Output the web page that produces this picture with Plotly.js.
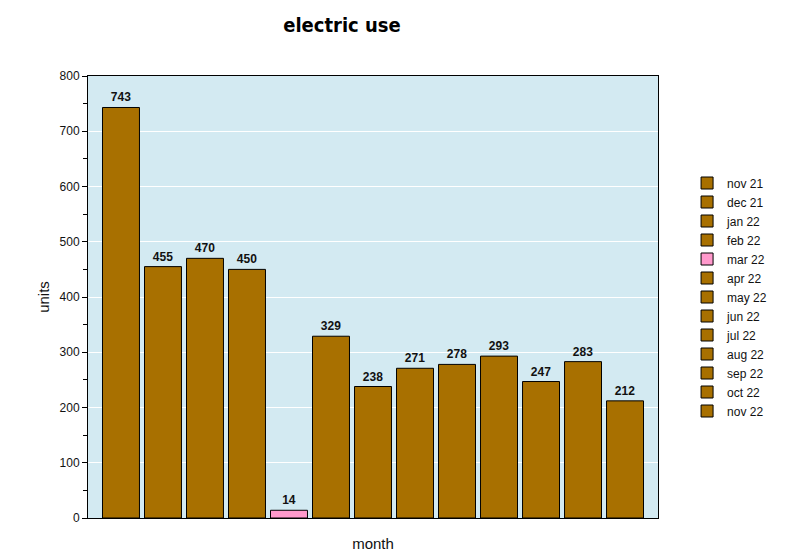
<!DOCTYPE html>
<html><head><meta charset="utf-8">
<script src="https://cdn.plot.ly/plotly-3.0.1.min.js"></script>
<style>html,body{margin:0;padding:0;background:#fff}#chart{width:801px;height:557px}</style>
</head><body><div id="chart"></div>
<script>
const months = ["nov 21","dec 21","jan 22","feb 22","mar 22","apr 22","may 22","jun 22","jul 22","aug 22","sep 22","oct 22","nov 22"];
const units = [743,455,470,450,14,329,238,271,278,293,247,283,212];
const barColors = ["#a87000","#a87000","#a87000","#a87000","#ff99cc","#a87000","#a87000","#a87000","#a87000","#a87000","#a87000","#a87000","#a87000"];

const traces = months.map((m,i)=>({
  type:'bar', name:m, x:[i], y:[units[i]],
  marker:{color:barColors[i], line:{color:'#000', width:1}},
  text:[String(units[i])], textposition:'outside', cliponaxis:false,
  textfont:{family:'Liberation Sans, Arial, sans-serif', size:12, color:'#111', weight:'bold'},
  width:0.88, hoverinfo:'skip'
}));

const layout = {
  width:801, height:557,
  margin:{l:88, r:143, t:76, b:39},
  paper_bgcolor:'#ffffff', plot_bgcolor:'#d3eaf2',
  barmode:'overlay',
  showlegend:true,
  title:{text:'electric use', x:342/801, xanchor:'center', y:1-25/557, yanchor:'middle',
    font:{family:'DejaVu Sans Condensed, Liberation Sans Narrow, sans-serif', size:20, color:'#000', weight:'bold'}},
  xaxis:{range:[-0.785,12.785], showticklabels:false, ticks:'', showgrid:false, zeroline:false,
    showline:true, linecolor:'#000', linewidth:1, mirror:true,
    title:{text:'month', standoff:20, font:{family:'Liberation Sans, Arial, sans-serif', size:15, color:'#111'}}},
  yaxis:{range:[0,800], dtick:100, ticks:'outside', ticklen:5, tickcolor:'#000',
    minor:{dtick:50, ticks:'outside', ticklen:4, tickcolor:'#000', showgrid:false},
    showgrid:true, gridcolor:'#ffffff', gridwidth:1, zeroline:false,
    showline:true, linecolor:'#000', linewidth:1, mirror:true,
    tickfont:{family:'Liberation Sans, Arial, sans-serif', size:12, color:'#111'},
    title:{text:'units', standoff:6, font:{family:'Liberation Sans, Arial, sans-serif', size:15, color:'#111'}}},
  legend:{x:1.051, xanchor:'left', y:0.5, yanchor:'middle', bgcolor:'rgba(0,0,0,0)',
    font:{family:'Liberation Sans, Arial, sans-serif', size:12, color:'#111'}, tracegroupgap:0}
};
Plotly.newPlot('chart', traces, layout, {displayModeBar:false, staticPlot:true});
</script></body></html>
